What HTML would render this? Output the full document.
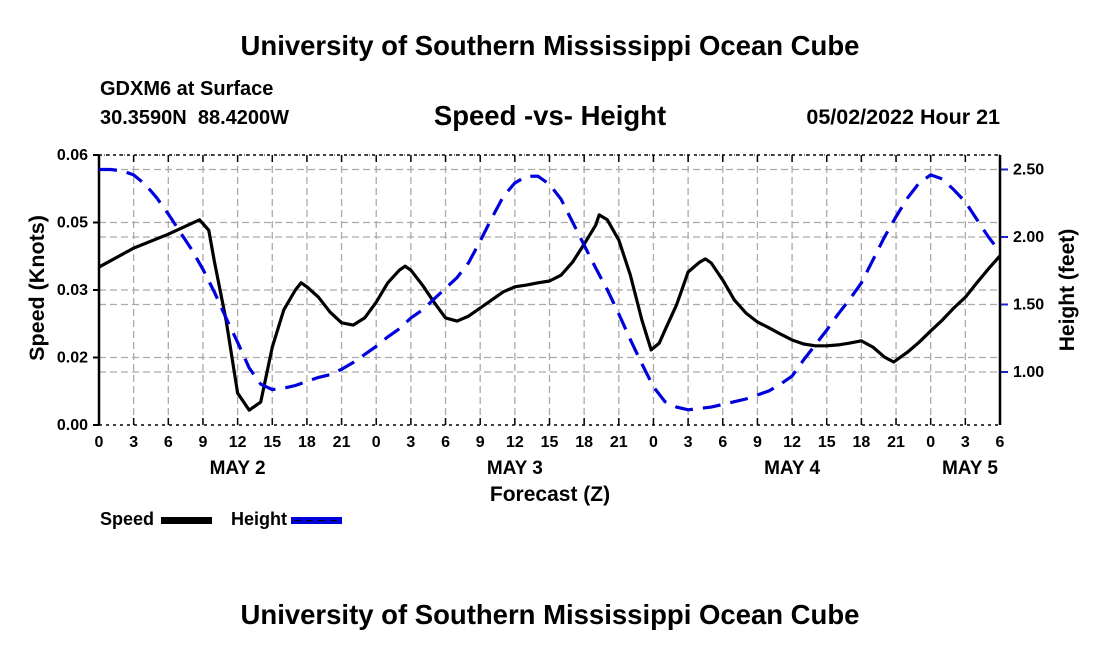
<!DOCTYPE html>
<html><head><meta charset="utf-8"><style>
body{margin:0;background:#fff;}
svg text{font-family:"Liberation Sans",sans-serif;font-weight:bold;fill:#000;}
</style></head><body>
<svg id="chart" width="1100" height="650" viewBox="0 0 1100 650" xmlns="http://www.w3.org/2000/svg">
<text x="550" y="55" font-size="27.5" text-anchor="middle">University of Southern Mississippi Ocean Cube</text>
<text x="100" y="95" font-size="20">GDXM6 at Surface</text>
<text x="100" y="124" font-size="20" xml:space="preserve">30.3590N  88.4200W</text>
<text x="550" y="125" font-size="27.5" text-anchor="middle">Speed -vs- Height</text>
<text x="1000" y="124" font-size="21.5" text-anchor="end">05/02/2022 Hour 21</text>
<g id="grid"></g><g id="axes"></g><g id="series"></g>
<text x="550" y="501" font-size="21" text-anchor="middle">Forecast (Z)</text>
<text transform="translate(44,288) rotate(-90)" font-size="21.5" text-anchor="middle">Speed (Knots)</text>
<text transform="translate(1074,290) rotate(-90)" font-size="21" text-anchor="middle">Height (feet)</text>
<g>
<text x="100" y="525" font-size="18">Speed</text>
<rect x="161" y="517" width="51" height="7" fill="#000"/>
</g>
<g>
<text x="231" y="525" font-size="18">Height</text>
<rect x="291" y="517" width="51" height="7" fill="#0000dd"/>
<line x1="294" y1="520.5" x2="342" y2="520.5" stroke="#000" stroke-width="1" stroke-dasharray="7,5"/>
</g>
<text x="550" y="624" font-size="27.5" text-anchor="middle">University of Southern Mississippi Ocean Cube</text>
</svg>
<script>
const xTickLabels=["0","3","6","9","12","15","18","21","0","3","6","9","12","15","18","21","0","3","6","9","12","15","18","21","0","3","6"];
const dayLabels=["MAY 2","MAY 3","MAY 4","MAY 5"];
const dayHours=[12,36,60,75.4];
const speedTicks=[0,0.015,0.03,0.045,0.06];
const speedTickLabels=["0.00","0.02","0.03","0.05","0.06"];
const heightTicks=[1.0,1.5,2.0,2.5];
const heightTickLabels=["1.00","1.50","2.00","2.50"];
const speedHours=[0,3,6,8.7,9.5,10,11,12,13,14,15,16,17,17.5,18,19,20,21,22,23,24,25,26,26.5,27,28,29,30,31,32,33,34,35,36,37,38,39,40,41,42,43,43.3,44,45,46,47,47.8,48.5,49,50,51,52,52.5,53,54,55,56,57,58,59,60,61,62,63,64,65,66,67,68,68.8,70,71,72,73,74,75,76,77,78];
const speedValues=[0.0351,0.0393,0.0424,0.0456,0.0433,0.0362,0.0233,0.0071,0.0033,0.0051,0.0173,0.0256,0.0300,0.0316,0.0307,0.0284,0.0251,0.0227,0.0222,0.0238,0.0273,0.0316,0.0344,0.0353,0.0344,0.0311,0.0273,0.0238,0.0231,0.0242,0.0260,0.0278,0.0296,0.0307,0.0311,0.0316,0.0320,0.0333,0.0362,0.0402,0.0444,0.0467,0.0456,0.0411,0.0333,0.0233,0.0167,0.0182,0.0211,0.0267,0.0340,0.0362,0.0369,0.0360,0.0322,0.0278,0.0249,0.0229,0.0216,0.0202,0.0189,0.0180,0.0176,0.0176,0.0178,0.0182,0.0187,0.0173,0.0151,0.0140,0.0162,0.0184,0.0209,0.0233,0.0260,0.0284,0.0316,0.0347,0.0376];
const heightValues=[2.50,2.50,2.49,2.46,2.39,2.29,2.17,2.04,1.91,1.76,1.59,1.40,1.22,1.03,0.91,0.87,0.88,0.90,0.93,0.96,0.98,1.02,1.07,1.13,1.19,1.26,1.32,1.40,1.46,1.54,1.62,1.70,1.81,1.97,2.14,2.30,2.40,2.45,2.45,2.39,2.28,2.11,1.94,1.77,1.61,1.43,1.24,1.06,0.89,0.78,0.74,0.72,0.73,0.74,0.76,0.78,0.80,0.83,0.86,0.91,0.97,1.09,1.20,1.31,1.43,1.54,1.66,1.83,2.00,2.15,2.29,2.40,2.46,2.43,2.35,2.26,2.13,2.00,1.89];

const L=99,R=1000,T=155,B=425,HMAX=78;
const NS='http://www.w3.org/2000/svg';
const xs=h=>L+(R-L)*h/HMAX;
const ys=v=>B-(B-T)*v/0.06;
const yh=v=>372-(v-1.0)*135;
function mk(tag,attrs,parent){const e=document.createElementNS(NS,tag);for(const k in attrs)e.setAttribute(k,attrs[k]);parent.appendChild(e);return e;}
const grid=document.getElementById('grid'),axes=document.getElementById('axes'),series=document.getElementById('series');

xTickLabels.forEach((lab,i)=>{
  const x=xs(i*3);
  if(i>0&&i<xTickLabels.length-1){
    const g=mk('line',{x1:x,y1:T,x2:x,y2:B,stroke:'#aaa','stroke-width':1.3,'stroke-dasharray':'7,4'},grid);
    
    
  }
  const tk=mk('line',{x1:x,y1:B,x2:x,y2:B-7,stroke:'#000','stroke-width':1.5},axes);
  
  
  const tk2=mk('line',{x1:x,y1:T,x2:x,y2:T+7,stroke:'#000','stroke-width':1.5},axes);
  
  
  const t=mk('text',{x:x,y:B+22,'font-size':16,'text-anchor':'middle'},axes);
  t.textContent=lab;
  
  
});
dayLabels.forEach((lab,i)=>{
  const t=mk('text',{x:xs(dayHours[i]),y:B+49,'font-size':19,'text-anchor':'middle'},axes);
  t.textContent=lab;
  
  
});
speedTicks.forEach((v,i)=>{
  const y=ys(v);
  if(i>0&&i<speedTicks.length-1){
    const g=mk('line',{x1:L,y1:y,x2:R,y2:y,stroke:'#aaa','stroke-width':1.3,'stroke-dasharray':'7,4'},grid);
    
    
  }
  const tk=mk('line',{x1:L-6,y1:y,x2:L,y2:y,stroke:'#000','stroke-width':2},axes);
  
  
  const t=mk('text',{x:L-11,y:y+5,'font-size':16,'text-anchor':'end'},axes);
  t.textContent=speedTickLabels[i];
  
  
});
heightTicks.forEach((v,i)=>{
  const y=yh(v);
  const g=mk('line',{x1:L,y1:y,x2:R,y2:y,stroke:'#aaa','stroke-width':1.3,'stroke-dasharray':'7,4'},grid);
  
  
  const tk=mk('line',{x1:R,y1:y,x2:R+8,y2:y,stroke:'#2222cc','stroke-width':2},axes);
  
  
  const t=mk('text',{x:R+13,y:y+5,'font-size':16},axes);
  t.textContent=heightTickLabels[i];
  
  
});
const fr=[[L,T,R,T,1.5,'3,4'],[L,B,R,B,1.5,'3,4'],[L,T,L,B,2.5,''],[R,T,R,B,2.5,'']];
fr.forEach(f=>{
  const e=mk('line',{x1:f[0],y1:f[1],x2:f[2],y2:f[3],stroke:'#000','stroke-width':f[4]},axes);
  if(f[5])e.setAttribute('stroke-dasharray',f[5]);
  
  
});
mk('line',{x1:L,y1:T,x2:R,y2:T,stroke:'#000','stroke-width':1,'stroke-dasharray':'1,4'},axes);
const sp=mk('polyline',{points:speedHours.map((h,i)=>xs(h)+','+ys(speedValues[i])).join(' '),fill:'none',stroke:'#000','stroke-width':3.2,'stroke-linejoin':'round'},series);


const hp=mk('polyline',{points:heightValues.map((v,i)=>xs(i)+','+yh(v)).join(' '),fill:'none',stroke:'#0000dd','stroke-width':3.2,'stroke-dasharray':'18,10'},series);


</script>
</body></html>
